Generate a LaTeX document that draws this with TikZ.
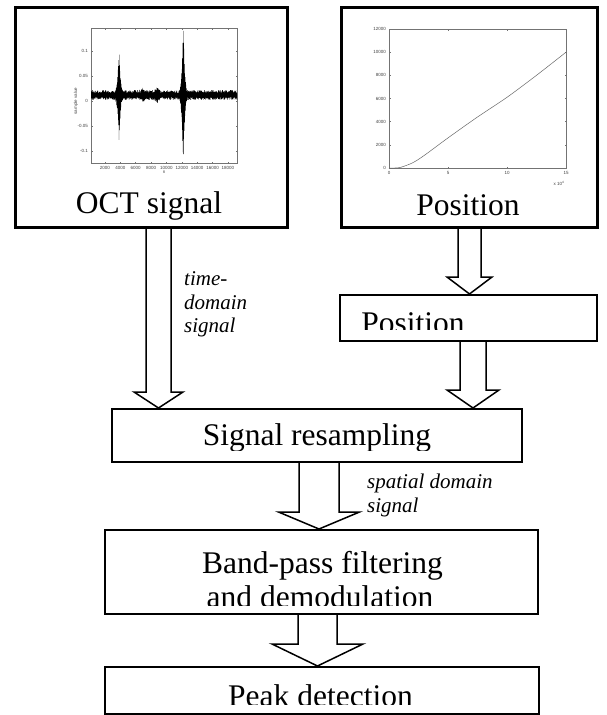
\documentclass[tikz,border=0pt]{standalone}
\usepackage{fontspec}
\setmainfont{Liberation Serif}
\newfontfamily\plotfont{Liberation Sans}
\usetikzlibrary{calc}
\newcommand\blockarrow[6]{% from, to, x centre, half shaft, half head, head length
  \draw[barrow] let \p1=(#1.south), \p2=(#2.north) in
    ({(#3-#4)*1pt},\y1) -- ({(#3-#4)*1pt},{\y2+#6*1pt}) -- ({(#3-#5)*1pt},{\y2+#6*1pt})
    -- ({#3*1pt},\y2) -- ({(#3+#5)*1pt},{\y2+#6*1pt}) -- ({(#3+#4)*1pt},{\y2+#6*1pt})
    -- ({(#3+#4)*1pt},\y1);}
\begin{document}
\begin{tikzpicture}[x=1pt,y=-1pt,
  box/.style={draw, line width=2pt, inner sep=0pt, anchor=north west},
  bigbox/.style={box, line width=2.6pt},
  lbl/.style={font=\fontsize{31.5}{34}\selectfont, inner sep=0pt, anchor=base},
  note/.style={font=\fontsize{21}{24}\selectfont\itshape, inner sep=0pt, anchor=base west},
  barrow/.style={draw, line width=1.5pt, line join=miter},
  tick/.style={font=\plotfont\fontsize{4.5}{5}\selectfont, text=black!75, inner sep=0pt},
  axis/.style={draw=black!55, line width=0.5pt},
  declare function={
    spk(\x,\c,\w)=max(0,1-abs(\x-\c)/\w);
    spkc(\x,\c,\w)=spk(\x,\c,\w)*spk(\x,\c,\w)*spk(\x,\c,\w);
  }
]
\useasboundingbox (0,0) rectangle (607,715);

% boxes
\node[bigbox, minimum width=272pt, minimum height=220pt] (oct) at (14,6) {};
\node[bigbox, minimum width=256pt, minimum height=220pt] (pos) at (340,6) {};
\node[box, minimum width=257pt, minimum height=46pt] (pos2) at (339,294) {};
\node[box, minimum width=410pt, minimum height=53pt] (res) at (111,408) {};
\node[box, minimum width=433pt, minimum height=84pt] (bp) at (104,529) {};
\node[box, minimum width=434pt, minimum height=47pt] (peak) at (104,666) {};

% block arrows
\blockarrow{oct}{res}{158.5}{12.5}{24.5}{16}
\blockarrow{pos}{pos2}{469.5}{11.5}{22.5}{17}
\blockarrow{pos2}{res}{473}{13}{26}{18}
\blockarrow{res}{bp}{319}{20}{40.5}{17}
\blockarrow{bp}{peak}{317.5}{19.5}{45.5}{22}

% box texts
\node[lbl] (octt) at (149,213) {OCT signal};
\node[lbl] (post) at (468,215) {Position};
\begin{scope}
  \clip (339,294) rectangle (596,329);
  \node[lbl] (pos2t) at (413,333.5) {Position};
\end{scope}
\begin{scope}
  \clip (111,408) rectangle (521,450);
  \node[lbl] (rest) at (317,445.5) {Signal resampling};
\end{scope}
\node[lbl] (bpt) at (322.5,573) {Band-pass filtering};
\begin{scope}
  \clip (104,529) rectangle (537,605);
  \node[lbl] (bpt2) at (320,607) {and demodulation};
\end{scope}
\begin{scope}
  \clip (104,666) rectangle (538,704.5);
  \node[lbl] (peakt) at (320.5,706) {Peak detection};
\end{scope}

% italic notes
\node[note] (n1a) at (184,285) {time-};
\node[note] (n1b) at (184,309) {domain};
\node[note] (n1c) at (184,332) {signal};
\node[note] (n2a) at (367,488) {spatial domain};
\node[note] (n2b) at (367,512) {signal};

% ---- OCT signal plot ----
\draw[axis] (91,28) rectangle (237,163);
\foreach \k in {2,4,...,18} {
  \pgfmathsetmacro\px{89.6+\k*7.6875}
  \draw[axis] (\px,163) -- (\px,161.5);
  \draw[axis] (\px,28) -- (\px,29.5);
  \node[tick] (ox\k) at (\px,167.5) {\k000};
}
\foreach \v/\n in {0.1/a,0.05/b,0/c,-0.05/d,-0.1/e} {
  \pgfmathsetmacro\py{101-\v*500}
  \draw[axis] (91,\py) -- (92.5,\py);
  \draw[axis] (237,\py) -- (235.5,\py);
  \node[tick, anchor=east] (oy\n) at (88,\py) {\v};
}
\node[tick] (oxl) at (164,172.5) {n};
\node[tick, rotate=90] (oyl) at (76,101) {sample value};
\begin{scope}
  \clip (91,28) rectangle (237,163);
  \pgfmathsetseed{7}
  \draw[line width=0.35pt] plot[domain=0:730, samples=731, variable=\t]
    ({91+0.2*\t}, {95 + (1-2*mod(round(\t),2))*( 5*(0.4+0.6*rnd)
      + (0.75+0.25*rnd)*( 44*spkc(91+0.2*\t,119,5) + 70*spkc(91+0.2*\t,183.3,5)
      + 3*spkc(91+0.2*\t,143,5) + 5*spkc(91+0.2*\t,157,5) ) )});
\end{scope}

% ---- Position plot ----
\draw[axis] (389,29) rectangle (566,168);
\foreach \k in {0,2,...,12} {
  \pgfmathsetmacro\py{168-\k*139/12}
  \draw[axis] (389,\py) -- (390.5,\py);
  \draw[axis] (566,\py) -- (564.5,\py);
  \ifnum\k=0 \node[tick, anchor=east] (py\k) at (386,\py) {0};
  \else \node[tick, anchor=east] (py\k) at (386,\py) {\k000}; \fi
}
\foreach \v in {0,5,10,15} {
  \pgfmathsetmacro\px{389+\v*11.8}
  \draw[axis] (\px,168) -- (\px,166.5);
  \draw[axis] (\px,29) -- (\px,30.5);
  \node[tick] (px\v) at (\px,172.5) {\v};
}
\node[tick] (pxl) at (559,183) {x 10\textsuperscript{4}};
\draw[black!60, line width=0.5pt] plot[smooth] coordinates {
  (389,168) (394.9,168) (400.8,167.3) (412.6,162.8) (424.4,155.3) (448,137.9)
  (477.5,117.0) (507,97.3) (536.5,75.3) (566,52.2)};
\end{tikzpicture}
\end{document}
